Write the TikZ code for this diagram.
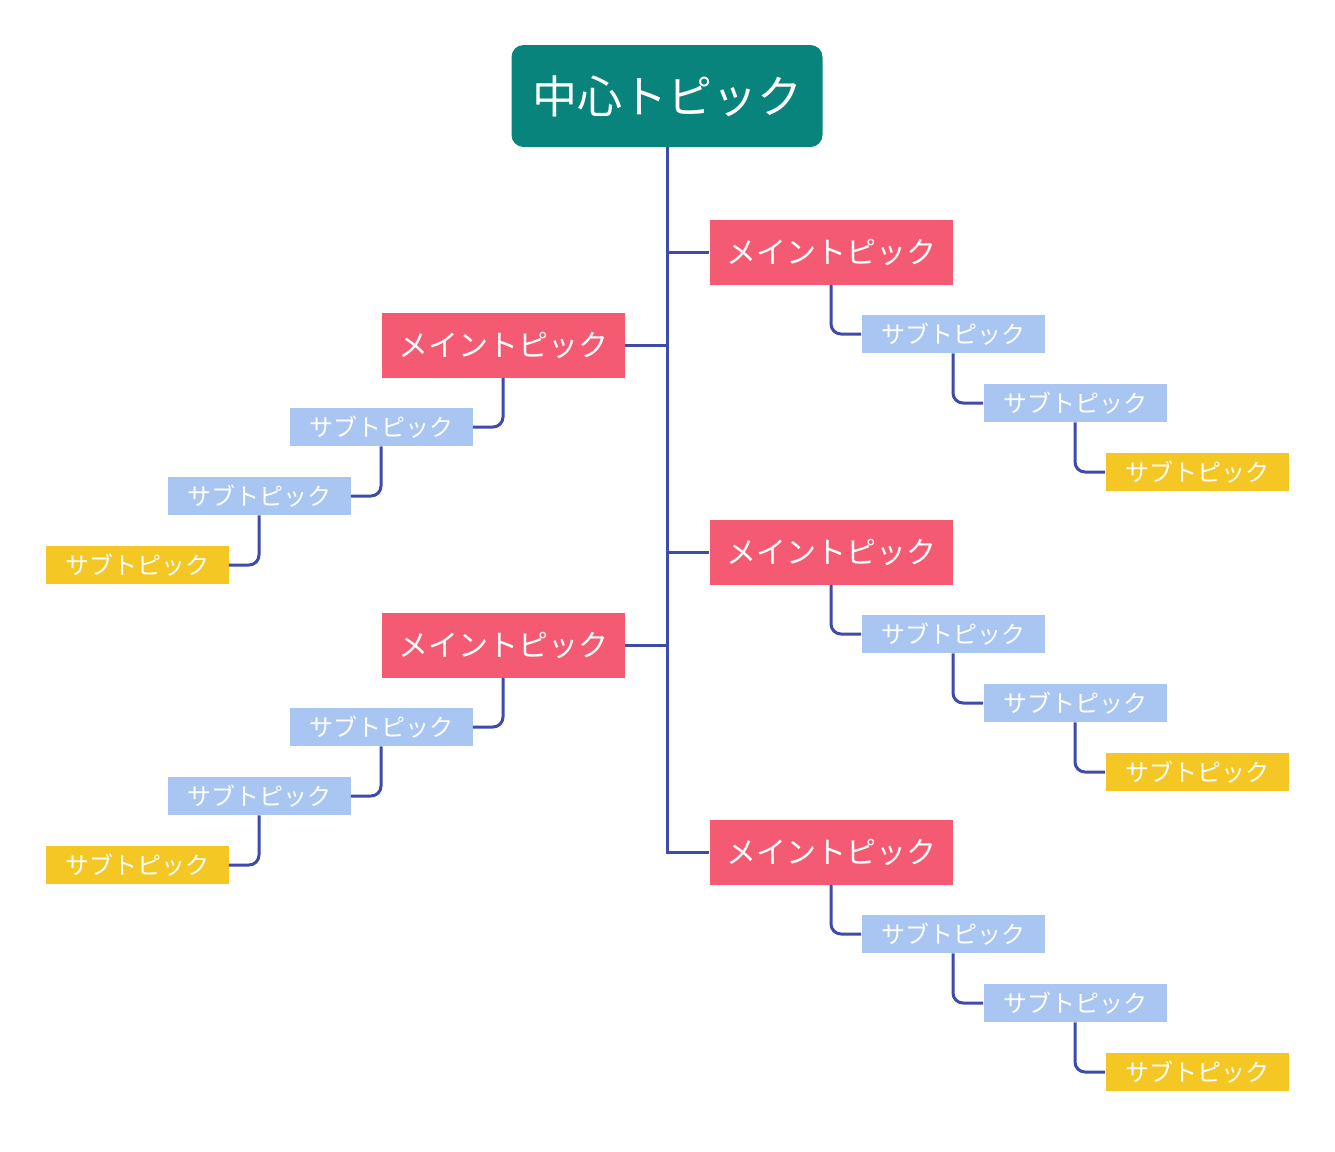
\documentclass[tikz,border=0pt]{standalone}
\usepackage{fontspec}
\setmainfont{Noto Sans CJK JP}
\usetikzlibrary{positioning}
\definecolor{centerc}{HTML}{08847C}
\definecolor{mainc}{HTML}{F45B73}
\definecolor{subc}{HTML}{A9C6F2}
\definecolor{leafc}{HTML}{F5C724}
\definecolor{linec}{HTML}{3F4BAA}
\tikzset{
  centerbox/.style={fill=centerc,rounded corners=6pt,text=white,font=\fontsize{22.5}{26}\selectfont,minimum width=155.5pt,minimum height=51pt,inner sep=0pt},
  mainbox/.style={fill=mainc,text=white,font=\fontsize{15}{18}\selectfont,minimum width=121.5pt,minimum height=32.5pt,inner sep=0pt},
  subbox/.style={fill=subc,text=white,font=\fontsize{12}{14}\selectfont,minimum width=91.5pt,minimum height=19pt,inner sep=0pt},
  leafbox/.style={subbox,fill=leafc},
  link/.style={draw=linec,line width=1.5pt,rounded corners=5pt}
}
\begin{document}
\begin{tikzpicture}[x=0.5pt,y=-0.5pt]
  \useasboundingbox (0,0) rectangle (1335,1152);
  \node[centerbox] (Center) at (667,96) {中心トピック};
  % right side
  \foreach \i/\y in {1/252,3/552,5/852}{
    \node[mainbox] (Main\i) at (831,\y) {メイントピック};
    \node[subbox] (SubA\i) at (953,\y+82) {サブトピック};
    \node[subbox] (SubB\i) at (1075,\y+151) {サブトピック};
    \node[leafbox] (Leaf\i) at (1197,\y+220) {サブトピック};
    \draw[link] (Main\i.south) |- (SubA\i.west);
    \draw[link] (SubA\i.south) |- (SubB\i.west);
    \draw[link] (SubB\i.south) |- (Leaf\i.west);
  }
  \draw[link] (Center.south |- Main1.west) -- (Main1.west);
  \draw[link] (Center.south |- Main3.west) -- (Main3.west);
  % left side
  \foreach \i/\y in {2/345,4/645}{
    \node[mainbox] (Main\i) at (503,\y) {メイントピック};
    \node[subbox] (SubA\i) at (381,\y+82) {サブトピック};
    \node[subbox] (SubB\i) at (259,\y+151) {サブトピック};
    \node[leafbox] (Leaf\i) at (137,\y+220) {サブトピック};
    \draw[link] (Center.south |- Main\i.east) -- (Main\i.east);
    \draw[link] (Main\i.south) |- (SubA\i.east);
    \draw[link] (SubA\i.south) |- (SubB\i.east);
    \draw[link] (SubB\i.south) |- (Leaf\i.east);
  }
  \draw[link,rounded corners=0pt] (Center.south) |- (Main5.west);
\end{tikzpicture}
\end{document}
